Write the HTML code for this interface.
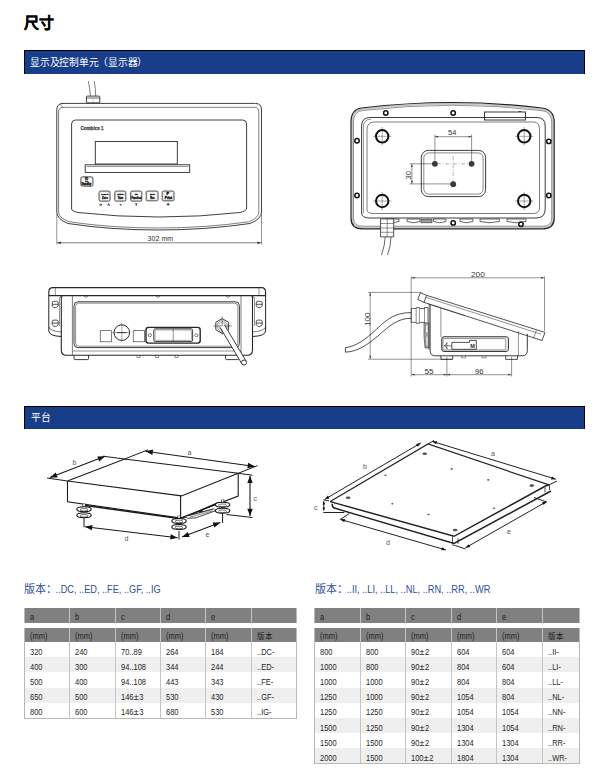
<!DOCTYPE html>
<html lang="zh-CN"><head><meta charset="utf-8"><style>
html,body{margin:0;padding:0;background:#fff;}
body{width:612px;height:780px;position:relative;overflow:hidden;font-family:"Liberation Sans",sans-serif;color:#222;}
.a{position:absolute;white-space:nowrap;}
.bar{position:absolute;background:#183e8a;border-top:1px solid #000;border-left:1px solid #000;border-right:1px solid #000;box-sizing:border-box;}
.bt{position:absolute;color:#fff;font-size:10px;white-space:nowrap;line-height:1;transform:scale(0.975);transform-origin:0 0;}
.hd{position:absolute;background:#808080;}
.alt{position:absolute;background:#efefef;}
.vl{position:absolute;width:1.2px;background:#b8b8b8;}
.vl2{position:absolute;width:1.2px;background:#c4c4c4;}
.hl{position:absolute;height:1.1px;background:#b8b8b8;}
.t{position:absolute;font-size:8.5px;line-height:10px;white-space:nowrap;color:#1e1e1e;transform:scaleX(0.88);transform-origin:0 0;}
.ver{position:absolute;font-size:11px;color:#2d4e9e;white-space:nowrap;line-height:1;}
svg{position:absolute;left:0;top:0;}
</style></head><body>
<div class="a" style="left:24.3px;top:14.5px;font-size:15px;font-weight:bold;line-height:1;color:#000;-webkit-text-stroke:0.3px #000">尺寸</div>
<div class="bar" style="left:24px;top:50px;width:561px;height:24px"></div>
<div class="bt" style="left:30px;top:57.8px">显示及控制单元（显示器）</div>
<div class="bar" style="left:24px;top:406px;width:561px;height:22.5px"></div>
<div class="bt" style="left:30.5px;top:412.8px">平台</div>
<div class="ver" style="left:24px;top:584px">版本：</div>
<div class="ver" style="left:315px;top:584px">版本：</div>
<div class="hd" style="left:24.3px;top:608.2px;width:272.09999999999997px;height:15.0px"></div>
<div class="hd" style="left:24.3px;top:627.8px;width:272.09999999999997px;height:14.200000000000045px"></div>
<div class="alt" style="left:24.3px;top:657.2px;width:272.09999999999997px;height:15.2px"></div>
<div class="alt" style="left:24.3px;top:687.6px;width:272.09999999999997px;height:15.2px"></div>
<div class="vl" style="left:23.7px;top:608.2px;height:15.0px"></div>
<div class="vl" style="left:23.7px;top:627.8px;height:90.20000000000005px"></div>
<div class="vl2" style="left:68.80000000000001px;top:608.2px;height:15.0px"></div>
<div class="vl2" style="left:68.80000000000001px;top:627.8px;height:90.20000000000005px"></div>
<div class="vl2" style="left:114.60000000000001px;top:608.2px;height:15.0px"></div>
<div class="vl2" style="left:114.60000000000001px;top:627.8px;height:90.20000000000005px"></div>
<div class="vl2" style="left:160.0px;top:608.2px;height:15.0px"></div>
<div class="vl2" style="left:160.0px;top:627.8px;height:90.20000000000005px"></div>
<div class="vl2" style="left:205.0px;top:608.2px;height:15.0px"></div>
<div class="vl2" style="left:205.0px;top:627.8px;height:90.20000000000005px"></div>
<div class="vl2" style="left:250.9px;top:608.2px;height:15.0px"></div>
<div class="vl2" style="left:250.9px;top:627.8px;height:90.20000000000005px"></div>
<div class="vl" style="left:295.79999999999995px;top:608.2px;height:15.0px"></div>
<div class="vl" style="left:295.79999999999995px;top:627.8px;height:90.20000000000005px"></div>
<div class="hl" style="left:23.7px;top:717.5px;width:273.29999999999995px"></div>
<div class="t" style="left:29.9px;top:612.0px">a</div>
<div class="t" style="left:75.0px;top:612.0px">b</div>
<div class="t" style="left:120.8px;top:612.0px">c</div>
<div class="t" style="left:166.2px;top:612.0px">d</div>
<div class="t" style="left:211.2px;top:612.0px">e</div>
<div class="t" style="left:257.1px;top:612.0px"></div>
<div class="t" style="left:29.9px;top:631.1999999999999px">(mm)</div>
<div class="t" style="left:75.0px;top:631.1999999999999px">(mm)</div>
<div class="t" style="left:120.8px;top:631.1999999999999px">(mm)</div>
<div class="t" style="left:166.2px;top:631.1999999999999px">(mm)</div>
<div class="t" style="left:211.2px;top:631.1999999999999px">(mm)</div>
<div class="t" style="left:257.1px;top:631.1999999999999px">版本</div>
<div class="t" style="left:29.9px;top:646.6px">320</div>
<div class="t" style="left:75.0px;top:646.6px">240</div>
<div class="t" style="left:120.8px;top:646.6px">70..89</div>
<div class="t" style="left:166.2px;top:646.6px">264</div>
<div class="t" style="left:211.2px;top:646.6px">184</div>
<div class="t" style="left:257.1px;top:646.6px">..DC-</div>
<div class="t" style="left:29.9px;top:661.8000000000001px">400</div>
<div class="t" style="left:75.0px;top:661.8000000000001px">300</div>
<div class="t" style="left:120.8px;top:661.8000000000001px">94..108</div>
<div class="t" style="left:166.2px;top:661.8000000000001px">344</div>
<div class="t" style="left:211.2px;top:661.8000000000001px">244</div>
<div class="t" style="left:257.1px;top:661.8000000000001px">..ED-</div>
<div class="t" style="left:29.9px;top:677.0px">500</div>
<div class="t" style="left:75.0px;top:677.0px">400</div>
<div class="t" style="left:120.8px;top:677.0px">94..108</div>
<div class="t" style="left:166.2px;top:677.0px">443</div>
<div class="t" style="left:211.2px;top:677.0px">343</div>
<div class="t" style="left:257.1px;top:677.0px">..FE-</div>
<div class="t" style="left:29.9px;top:692.2px">650</div>
<div class="t" style="left:75.0px;top:692.2px">500</div>
<div class="t" style="left:120.8px;top:692.2px">146<span style="display:inline-block;transform:scaleX(1.3);margin:0 0.9px">±</span>3</div>
<div class="t" style="left:166.2px;top:692.2px">530</div>
<div class="t" style="left:211.2px;top:692.2px">430</div>
<div class="t" style="left:257.1px;top:692.2px">..GF-</div>
<div class="t" style="left:29.9px;top:707.4px">800</div>
<div class="t" style="left:75.0px;top:707.4px">600</div>
<div class="t" style="left:120.8px;top:707.4px">146<span style="display:inline-block;transform:scaleX(1.3);margin:0 0.9px">±</span>3</div>
<div class="t" style="left:166.2px;top:707.4px">680</div>
<div class="t" style="left:211.2px;top:707.4px">530</div>
<div class="t" style="left:257.1px;top:707.4px">..IG-</div>
<div class="hd" style="left:314.4px;top:608.2px;width:264.9px;height:15.0px"></div>
<div class="hd" style="left:314.4px;top:627.8px;width:264.9px;height:14.200000000000045px"></div>
<div class="alt" style="left:314.4px;top:657.2px;width:264.9px;height:15.2px"></div>
<div class="alt" style="left:314.4px;top:687.6px;width:264.9px;height:15.2px"></div>
<div class="alt" style="left:314.4px;top:718.0px;width:264.9px;height:15.2px"></div>
<div class="alt" style="left:314.4px;top:748.4px;width:264.9px;height:15.2px"></div>
<div class="vl" style="left:313.79999999999995px;top:608.2px;height:15.0px"></div>
<div class="vl" style="left:313.79999999999995px;top:627.8px;height:135.80000000000007px"></div>
<div class="vl2" style="left:359.79999999999995px;top:608.2px;height:15.0px"></div>
<div class="vl2" style="left:359.79999999999995px;top:627.8px;height:135.80000000000007px"></div>
<div class="vl2" style="left:405.0px;top:608.2px;height:15.0px"></div>
<div class="vl2" style="left:405.0px;top:627.8px;height:135.80000000000007px"></div>
<div class="vl2" style="left:450.9px;top:608.2px;height:15.0px"></div>
<div class="vl2" style="left:450.9px;top:627.8px;height:135.80000000000007px"></div>
<div class="vl2" style="left:495.9px;top:608.2px;height:15.0px"></div>
<div class="vl2" style="left:495.9px;top:627.8px;height:135.80000000000007px"></div>
<div class="vl2" style="left:541.9px;top:608.2px;height:15.0px"></div>
<div class="vl2" style="left:541.9px;top:627.8px;height:135.80000000000007px"></div>
<div class="vl" style="left:578.6999999999999px;top:608.2px;height:15.0px"></div>
<div class="vl" style="left:578.6999999999999px;top:627.8px;height:135.80000000000007px"></div>
<div class="hl" style="left:313.79999999999995px;top:763.1px;width:266.09999999999997px"></div>
<div class="t" style="left:320.0px;top:612.0px">a</div>
<div class="t" style="left:366.0px;top:612.0px">b</div>
<div class="t" style="left:411.20000000000005px;top:612.0px">c</div>
<div class="t" style="left:457.1px;top:612.0px">d</div>
<div class="t" style="left:502.1px;top:612.0px">e</div>
<div class="t" style="left:548.1px;top:612.0px"></div>
<div class="t" style="left:320.0px;top:631.1999999999999px">(mm)</div>
<div class="t" style="left:366.0px;top:631.1999999999999px">(mm)</div>
<div class="t" style="left:411.20000000000005px;top:631.1999999999999px">(mm)</div>
<div class="t" style="left:457.1px;top:631.1999999999999px">(mm)</div>
<div class="t" style="left:502.1px;top:631.1999999999999px">(mm)</div>
<div class="t" style="left:548.1px;top:631.1999999999999px">版本</div>
<div class="t" style="left:320.0px;top:646.6px">800</div>
<div class="t" style="left:366.0px;top:646.6px">800</div>
<div class="t" style="left:411.20000000000005px;top:646.6px">90<span style="display:inline-block;transform:scaleX(1.3);margin:0 0.9px">±</span>2</div>
<div class="t" style="left:457.1px;top:646.6px">604</div>
<div class="t" style="left:502.1px;top:646.6px">604</div>
<div class="t" style="left:548.1px;top:646.6px">..II-</div>
<div class="t" style="left:320.0px;top:661.8000000000001px">1000</div>
<div class="t" style="left:366.0px;top:661.8000000000001px">800</div>
<div class="t" style="left:411.20000000000005px;top:661.8000000000001px">90<span style="display:inline-block;transform:scaleX(1.3);margin:0 0.9px">±</span>2</div>
<div class="t" style="left:457.1px;top:661.8000000000001px">804</div>
<div class="t" style="left:502.1px;top:661.8000000000001px">604</div>
<div class="t" style="left:548.1px;top:661.8000000000001px">..LI-</div>
<div class="t" style="left:320.0px;top:677.0px">1000</div>
<div class="t" style="left:366.0px;top:677.0px">1000</div>
<div class="t" style="left:411.20000000000005px;top:677.0px">90<span style="display:inline-block;transform:scaleX(1.3);margin:0 0.9px">±</span>2</div>
<div class="t" style="left:457.1px;top:677.0px">804</div>
<div class="t" style="left:502.1px;top:677.0px">804</div>
<div class="t" style="left:548.1px;top:677.0px">..LL-</div>
<div class="t" style="left:320.0px;top:692.2px">1250</div>
<div class="t" style="left:366.0px;top:692.2px">1000</div>
<div class="t" style="left:411.20000000000005px;top:692.2px">90<span style="display:inline-block;transform:scaleX(1.3);margin:0 0.9px">±</span>2</div>
<div class="t" style="left:457.1px;top:692.2px">1054</div>
<div class="t" style="left:502.1px;top:692.2px">804</div>
<div class="t" style="left:548.1px;top:692.2px">..NL-</div>
<div class="t" style="left:320.0px;top:707.4px">1250</div>
<div class="t" style="left:366.0px;top:707.4px">1250</div>
<div class="t" style="left:411.20000000000005px;top:707.4px">90<span style="display:inline-block;transform:scaleX(1.3);margin:0 0.9px">±</span>2</div>
<div class="t" style="left:457.1px;top:707.4px">1054</div>
<div class="t" style="left:502.1px;top:707.4px">1054</div>
<div class="t" style="left:548.1px;top:707.4px">..NN-</div>
<div class="t" style="left:320.0px;top:722.6px">1500</div>
<div class="t" style="left:366.0px;top:722.6px">1250</div>
<div class="t" style="left:411.20000000000005px;top:722.6px">90<span style="display:inline-block;transform:scaleX(1.3);margin:0 0.9px">±</span>2</div>
<div class="t" style="left:457.1px;top:722.6px">1304</div>
<div class="t" style="left:502.1px;top:722.6px">1054</div>
<div class="t" style="left:548.1px;top:722.6px">..RN-</div>
<div class="t" style="left:320.0px;top:737.8000000000001px">1500</div>
<div class="t" style="left:366.0px;top:737.8000000000001px">1500</div>
<div class="t" style="left:411.20000000000005px;top:737.8000000000001px">90<span style="display:inline-block;transform:scaleX(1.3);margin:0 0.9px">±</span>2</div>
<div class="t" style="left:457.1px;top:737.8000000000001px">1304</div>
<div class="t" style="left:502.1px;top:737.8000000000001px">1304</div>
<div class="t" style="left:548.1px;top:737.8000000000001px">..RR-</div>
<div class="t" style="left:320.0px;top:753.0px">2000</div>
<div class="t" style="left:366.0px;top:753.0px">1500</div>
<div class="t" style="left:411.20000000000005px;top:753.0px">100<span style="display:inline-block;transform:scaleX(1.3);margin:0 0.9px">±</span>2</div>
<div class="t" style="left:457.1px;top:753.0px">1804</div>
<div class="t" style="left:502.1px;top:753.0px">1304</div>
<div class="t" style="left:548.1px;top:753.0px">..WR-</div>
<svg width="612" height="780" viewBox="0 0 612 780"><g id="d1" fill="none" stroke="#2a2a2a" stroke-width="0.9">
 <!-- cable -->
 <path d="M88.3 81 Q89.8 88 90.5 96.1 M94.2 81 Q95.5 88 95.7 96.1" stroke-width="0.7" stroke="#444"/>
 <!-- gland -->
 <rect x="86.4" y="96.1" width="13.4" height="6.8" rx="0.8" stroke-width="0.9"/>
 <path d="M86.4 98 H99.8" stroke-width="0.7"/>
 <path d="M93.2 98.5 V103" stroke-width="0.4" stroke="#888"/>
 <!-- outer housing -->
 <path d="M56.8 212 V110 Q56.8 103.4 63 103.4 H255.5 Q261.5 103.4 261.5 110 V212 Q261.5 219 250 223.5 Q205 230 158 230 Q111 230 68 223.5 Q56.8 219 56.8 212 Z"/>
 <path d="M58.6 212 V112 Q58.6 107.3 63.5 107.3 H254.5 Q258.8 107.3 258.8 112 V212 Q258.8 218 248.5 221.8 Q205 228 158 228 Q111 228 69.5 221.8 Q58.6 218 58.6 212" stroke-width="0.6"/>
 <path d="M63 107.3 Q58 103.4 63 103.4" stroke-width="0.5"/>
 <!-- inner panel -->
 <path d="M71.6 209 V124 Q71.6 120 75.6 120 H242.6 Q246.6 120 246.6 124 V208 Q246.6 211 240 212.5 Q200 217 159 217 Q118 217 78 212.5 Q71.6 211 71.6 209 Z"/>
 <!-- display window -->
 <rect x="95.3" y="141.5" width="82" height="22.5"/>
 <!-- slot -->
 <rect x="85.2" y="164.8" width="104.5" height="7.6"/>
 <path d="M87 166.5 H188" stroke-width="0.5"/>
 <!-- buttons -->
 <g stroke-width="0.9" stroke="#333">
 <rect x="80.9" y="176.9" width="12" height="9.2" rx="1.3"/>
 <rect x="99.1" y="191.1" width="10.9" height="10" rx="1.4"/>
 <rect x="114.8" y="191.1" width="11" height="10" rx="1.4"/>
 <rect x="130.7" y="191.1" width="11.1" height="10" rx="1.4"/>
 <rect x="146.2" y="191.1" width="11.8" height="9.7" rx="1.4"/>
 <rect x="162.2" y="191.1" width="11.8" height="9.7" rx="1.4"/>
 </g>
 <g stroke-width="0.35" stroke="#999">
 <rect x="81.7" y="177.7" width="10.4" height="7.6" rx="0.8"/>
 <rect x="99.9" y="191.9" width="9.3" height="8.4" rx="0.9"/>
 <rect x="115.6" y="191.9" width="9.4" height="8.4" rx="0.9"/>
 <rect x="131.5" y="191.9" width="9.5" height="8.4" rx="0.9"/>
 <rect x="147" y="191.9" width="10.2" height="8.1" rx="0.9"/>
 <rect x="163" y="191.9" width="10.2" height="8.1" rx="0.9"/>
 </g>
<!-- dimension -->
 <path d="M56.8 214 V244.5 M261.5 214 V244.5" stroke-width="0.5"/>
 <path d="M57 242.8 H261.3" stroke-width="0.6"/>
 <path d="M57 242.8 l4 -1.2 v2.4 z M261.3 242.8 l-4 -1.2 v2.4 z" fill="#3a3a3a" stroke="none"/>
</g>
<g font-family="Liberation Sans, sans-serif" fill="#333">
 <text x="80.5" y="130.2" font-size="6" font-weight="bold" stroke="#333" stroke-width="0.25" textLength="23" lengthAdjust="spacingAndGlyphs">Combics 1</text>
 <text x="147.6" y="241.3" font-size="7.8" textLength="25.6" lengthAdjust="spacingAndGlyphs">302 mm</text>
</g>
<g fill="#1a1a1a" stroke="#1a1a1a" stroke-width="0.35" font-family="Liberation Sans, sans-serif" font-weight="bold">
 <text x="85" y="179.8" font-size="2.8" textLength="3" lengthAdjust="spacingAndGlyphs">I/O</text>
 <text x="85" y="182.3" font-size="2.5" textLength="3" lengthAdjust="spacingAndGlyphs">Off</text>
 <text x="81.5" y="184.6" font-size="2.6" textLength="9.5" lengthAdjust="spacingAndGlyphs">Standby</text>
 <text x="101.3" y="194.7" font-size="2.3" textLength="7" lengthAdjust="spacingAndGlyphs">&gt;0&lt;</text>
 <text x="102" y="199" font-size="2.8" textLength="5.8" lengthAdjust="spacingAndGlyphs">Zero</text>
 <text x="117" y="194.7" font-size="2.3" textLength="7" lengthAdjust="spacingAndGlyphs">&lt;T&gt;</text>
 <text x="117.8" y="199" font-size="2.8" textLength="5.5" lengthAdjust="spacingAndGlyphs">Tare</text>
 <text x="134.8" y="194.7" font-size="2.3" textLength="3" lengthAdjust="spacingAndGlyphs">Fn</text>
 <text x="131.5" y="199" font-size="2.8" textLength="9.8" lengthAdjust="spacingAndGlyphs">Function</text>
 <text x="150.1" y="194.9" font-size="2.3" textLength="4.6" lengthAdjust="spacingAndGlyphs">Ref</text>
 <text x="150.3" y="198.5" font-size="2.8" textLength="4.4" lengthAdjust="spacingAndGlyphs">Rec</text>
 <text x="166.5" y="194.9" font-size="2.6" textLength="2.5" lengthAdjust="spacingAndGlyphs">P</text>
 <text x="164.8" y="198.8" font-size="2.8" textLength="7.2" lengthAdjust="spacingAndGlyphs">Print</text>
</g>
<g fill="#2a2a2a" stroke="#2a2a2a" stroke-width="0.9">
 <path d="M99.3 204.8 H101.7 M100.6 203.8 L101.8 204.8 L100.6 205.8" fill="none"/>
 <path d="M107.8 205.7 L108.65 203.6 L109.5 205.7" fill="none"/>
 <path d="M121.3 203.8 V205.8 L119.3 204.8 Z" stroke="none"/>
 <path d="M135.2 203.8 H137.3 M136.25 203.8 V205.8" fill="none"/>
 <path d="M166.6 204.3 H169.6 M168.1 202.8 V205.8" fill="none"/>
</g>
<g id="d2" fill="none" stroke="#262626" stroke-width="0.9">
 <!-- outer housing -->
 <path d="M352.25 122 Q352.25 110.5 362 109.3 Q453 98.5 541.3 109.3 Q552.95 110.5 552.95 122 V218 Q552.95 227.5 543 227.5 H362 Q352.25 227.5 352.25 218 Z" stroke-width="1.6" stroke="#c8c8c8"/>
 
 <path d="M351 122 Q351 109.5 361.6 108 Q453 97 541.7 108 Q554.2 109.5 554.2 122 V218 Q554.2 228.8 543 228.8 H362 Q351 228.8 351 218 Z" stroke-width="1.2" stroke="#222"/>
 <path d="M353.5 122 Q353.5 111.5 362.5 110.5 Q453 100 541 110.5 Q551.7 111.5 551.7 122 V218 Q551.7 226.2 543 226.2 H362 Q353.5 226.2 353.5 218 Z" stroke-width="0.5"/>
 <!-- inner frame -->
 <path d="M361.6 213 V126 Q361.6 117.5 370 117.5 H537 Q545.2 117.5 545.2 126 V209 Q545.2 218 536 218 H370 Q361.6 218 361.6 213 Z"/>
 <path d="M363.4 213 V127 Q363.4 119.3 371 119.3" stroke-width="0.5"/>
 <path d="M367 210 V130 Q367 122 374 122 H534 Q539.5 122 539.5 130 V208 Q539.5 213.5 533 213.5 H374 Q367 213.5 367 210 Z" stroke-width="0.6"/>
 <!-- center plate -->
 <rect x="421.3" y="150.4" width="64.3" height="46.2" rx="7"/>
 <rect x="423.8" y="152.9" width="59.3" height="41.2" rx="5" stroke-width="0.7" stroke="#555"/>
 <!-- center lines -->
 <path d="M437 163.8 H470 M453.2 156 V188" stroke-width="0.5" stroke="#777" stroke-dasharray="4 1.5 1 1.5"/>
 <!-- dim 54 -->
 <path d="M434.9 163.8 V134.5 M471.6 163.8 V134.5" stroke-width="0.5"/>
 <path d="M435 136.7 H471.5" stroke-width="0.5"/>
 <path d="M435 136.7 l3 -0.9 v1.8z M471.5 136.7 l-3 -0.9 v1.8z" fill="#3a3a3a" stroke="none"/>
 <!-- dim 30 -->
 <path d="M434.9 163.8 H409.5 M453.2 183.9 H409.5" stroke-width="0.5"/>
 <path d="M411.9 164 V183.7" stroke-width="0.5"/>
 <path d="M411.9 164 l-0.9 3 h1.8z M411.9 183.7 l-0.9 -3 h1.8z" fill="#3a3a3a" stroke="none"/>
 <!-- big holes -->
 <g stroke-width="2" stroke="#111">
  <circle cx="382.2" cy="136.3" r="6.2"/><circle cx="524.2" cy="136.3" r="6.2"/>
  <circle cx="382.2" cy="201" r="6.2"/><circle cx="524.2" cy="201" r="6.2"/>
 </g>
 <path d="M373 136.3 H391.4 M382.2 127 V145.5 M515 136.3 H533.4 M524.2 127 V145.5 M373 201 H391.4 M382.2 191.8 V210.2 M515 201 H533.4 M524.2 191.8 V210.2" stroke-width="0.4"/>
 <!-- small holes -->
 <g stroke-width="1.5" stroke="#111">
  <circle cx="385.8" cy="113" r="2.2"/><circle cx="453.2" cy="113" r="2.2"/>
  <circle cx="357" cy="140.8" r="2.2"/><circle cx="357" cy="195.5" r="2.2"/>
  <circle cx="548.8" cy="141.4" r="2.2"/><circle cx="548.8" cy="195.5" r="2.2"/>
  <circle cx="453.2" cy="222.9" r="2.2"/><circle cx="521" cy="224.3" r="2.2"/>
 </g>
 <!-- label -->
 <rect x="484.5" y="112" width="41" height="8"/>
 <!-- connectors -->
 <g stroke-width="0.7">
  <path d="M386 219 h13 v2.5 q-6.5 2.5 -13 0z"/>
  <path d="M407 219 h13 v2.5 q-6.5 2.5 -13 0z"/>
  <path d="M433.5 219 h12.5 v2.5 q-6.5 2.5 -12.5 0z"/>
  <path d="M460 219 h13 v2.5 q-6.5 2.5 -13 0z"/>
  <path d="M480 219 h19.4 v2.5 q-9.7 2.5 -19.4 0z"/>
  <path d="M507 219 h19 v2.5 q-9.5 2.5 -19 0z"/>
 </g>
 <rect x="421" y="219.2" width="11" height="3.6" fill="#999" stroke="#333" stroke-width="0.6"/>
 <!-- gland + cable -->
 <path d="M380.6 218.9 H393.7 V236.9 H380.6 Z" fill="#fff" stroke-width="0.8"/>
 <path d="M380.6 223.5 H393.7 M380.6 228 H393.7 M380.6 232.3 H393.7 M387.2 219 V236.9" stroke-width="0.5"/>
 <path d="M385.2 236.9 Q385 245 381.5 255 M391 236.9 Q390.8 246 387.5 255" stroke-width="0.7"/>
</g>
<g fill="#3a3a3a" stroke="none">
 <circle cx="434.9" cy="163.8" r="2.9"/><circle cx="471.6" cy="163.8" r="2.9"/><circle cx="453.2" cy="184.2" r="2.9"/>
 <path d="M518 112 q2 -2 4 0z"/>
</g>
<g font-family="Liberation Sans, sans-serif" fill="#333" font-size="7.5">
 <text x="448" y="135">54</text>
 <text transform="translate(411 179.4) rotate(-90)">30</text>
</g>
<g id="d3" fill="none" stroke="#262626" stroke-width="0.9">
 <!-- top plate -->
 <path d="M48.8 296 V292 Q48.8 287.6 53 287.6 H261.4 Q265.6 287.6 265.6 292 V296" stroke-width="1.1"/>
 <path d="M48.8 295.6 H265.6" stroke-width="1.1"/>
 <path d="M55.3 288 V295.6 M259 288 V295.6" stroke-width="0.5"/>
 <!-- brackets -->
 <path d="M48.8 296 V331 Q49 336 61.3 336.5" stroke-width="1"/>
 <path d="M48.8 327 Q50 331 61.3 332" stroke-width="0.6"/>
 <path d="M59.5 297.5 Q60.5 297 63 296.5 M59.5 297.5 V326" stroke-width="0.5"/>
 <path d="M265.6 296 V331 Q265.4 336 252.5 336.5" stroke-width="1"/>
 <path d="M265.6 327 Q264.4 331 252.5 332" stroke-width="0.6"/>
 <path d="M254.5 297.5 Q253.5 297 251 296.5 M254.5 297.5 V326" stroke-width="0.5"/>
 <g stroke-width="0.8">
  <path d="M52.2 306 V303 Q52.2 301.3 53.9 301.3 H56.5 Q58.2 301.3 58.2 303 V306 Q55.2 309.5 52.2 306 Z M52.2 304.3 H58.2"/>
  <path d="M52.2 324.8 V321.8 Q52.2 320.1 53.9 320.1 H56.5 Q58.2 320.1 58.2 321.8 V324.8 Q55.2 328.3 52.2 324.8 Z M52.2 323.1 H58.2"/>
  <path d="M256.2 306 V303 Q256.2 301.3 257.9 301.3 H260.5 Q262.2 301.3 262.2 303 V306 Q259.2 309.5 256.2 306 Z M256.2 304.3 H262.2"/>
  <path d="M256.2 324.8 V321.8 Q256.2 320.1 257.9 320.1 H260.5 Q262.2 320.1 262.2 321.8 V324.8 Q259.2 328.3 256.2 324.8 Z M256.2 323.1 H262.2"/>
 </g>
 <!-- main body -->
 <path d="M61.3 296 V350 Q61.3 355.3 66.5 355.3 H247 Q252.5 355.3 252.5 350 V296" stroke-width="1.1"/>
 <path d="M72.4 296 V355.3 M241 296 V355.3" stroke-width="0.6"/>
 <path d="M72.4 351 H241" stroke-width="0.5"/>
 <!-- inner panel -->
 <rect x="74" y="301.8" width="165.4" height="45.8" rx="4"/>
 <rect x="75.6" y="303.2" width="162.2" height="43" rx="3.2" stroke-width="0.5"/>
 <!-- bumps -->
 <path d="M84 296 q2 3 4 0 M156 296 q2 3 4 0 M226 296 q2 3 4 0" stroke-width="0.6"/>
 <!-- feet -->
 <path d="M74 355.3 v3.5 q0 0.8 0.8 0.8 h12.9 q0.8 0 0.8 -0.8 v-3.5" />
 <path d="M225.6 355.3 v3.5 q0 0.8 0.8 0.8 h11.4 q0.8 0 0.8 -0.8 v-3.5" />
 <path d="M137 355.3 v2.2 h3 v-2.2 M155.5 355.3 v2.2 h3 v-2.2 M175 355.3 v2.2 h3 v-2.2" stroke-width="0.5"/>
 <!-- squares and circle -->
 <rect x="100.2" y="330.7" width="11.4" height="11.1" stroke-width="0.6"/>
 <rect x="133.2" y="330.7" width="11.5" height="11.1" stroke-width="0.6"/>
 <circle cx="121.8" cy="332.6" r="7.8" stroke-width="1"/>
 <path d="M112 332.6 H130.3 M121.8 323 V342.5" stroke-width="0.4"/>
 <path d="M117 332.6 H126.5" stroke-width="0.9"/>
 <!-- D-sub -->
 <rect x="146" y="327.4" width="54.2" height="15.7" rx="2.5" stroke-width="1.4"/>
 <rect x="153.8" y="328.8" width="38.8" height="12.8" rx="1.5" stroke-width="0.9"/>
 <rect x="155" y="330" width="36.4" height="10.4" rx="1" stroke-width="0.4"/>
 <path d="M173.2 329 V341.5" stroke-width="0.5"/>
 <circle cx="149.8" cy="335.2" r="1.6" stroke-width="0.6"/>
 <circle cx="196.4" cy="335.2" r="1.6" stroke-width="0.6"/>
 <!-- gland -->
 <path d="M222.2 318.6 L228.6 322.3 V329.7 L222.2 333.4 L215.8 329.7 V322.3 Z" stroke-width="0.9"/>
 <circle cx="222.2" cy="326" r="5.2" stroke-width="0.6" stroke="#666"/>
 <circle cx="222.2" cy="326" r="3.6" stroke-width="0.6" stroke="#777"/>
 <path d="M213 326 H232 M222.2 316.5 V335" stroke-width="0.5"/>
 <!-- cable rod -->
 <path d="M220.05 327.3 L241.85 363.8 A2.5 2.5 0 0 0 246.15 361.2 L224.35 324.7 Z" fill="#fff" stroke="none"/>
 <path d="M220.05 327.3 L241.85 363.8 M224.35 324.7 L246.15 361.2" stroke-width="0.9"/>
 <circle cx="244" cy="362.5" r="2.5" stroke-width="0.9" fill="#fff"/>
</g>
<g id="d4" fill="none" stroke="#262626" stroke-width="0.9">
 <!-- dimension lines -->
 <g stroke-width="0.5">
  <path d="M411.2 276.5 V376.5 M544.5 276.5 V331"/>
  <path d="M411.4 277.8 H544.3"/>
  <path d="M368 292.4 H421.5 M368 359.2 H452"/>
  <path d="M370.2 292.6 V359"/>
  <path d="M446.9 357 V376.5 M511.6 357 V376.5"/>
  <path d="M411.4 374.7 H511.4"/>
 </g>
 <g fill="#3a3a3a" stroke="none">
  <path d="M411.4 277.8 l3.2 -0.9 v1.8z M544.3 277.8 l-3.2 -0.9 v1.8z"/>
  <path d="M370.2 292.6 l-0.9 3.2 h1.8z M370.2 359 l-0.9 -3.2 h1.8z"/>
  <path d="M411.4 374.7 l3.2 -0.9 v1.8z M446.9 374.7 l-3.2 -0.9 v1.8z M446.9 374.7 l3.2 -0.9 v1.8z M511.4 374.7 l-3.2 -0.9 v1.8z"/>
 </g>
 <!-- cable -->
 <path d="M411.2 312.6 C396 312.6 388 318 376 329.7 C366 339 356 346.5 345.4 347.7 V352.2 C358 351.5 367 345 378 336 C390 325 398 318.5 411.2 318.2" stroke-width="0.8"/>
 <!-- gland -->
 <path d="M411.2 308.5 h5 v-0.9 h3.2 v0.9 h5 v-0.9 h3.6 v15.7 h-3.6 v-0.9 h-5 v0.9 h-3.2 v-0.9 h-5 z" stroke-width="0.7"/>
 <path d="M416.2 308.5 V322.4 M419.4 308.5 V322.4 M424.5 307.6 V323.3" stroke-width="0.5"/>
 <!-- head -->
 <path d="M420.4 292.7 L426.5 295.3 L424 302.4 L417.8 299.4 Z" stroke-width="0.8"/>
 <path d="M426.5 295.3 L545 332.4 L542 340.5 L424 302.4" stroke-width="0.8"/>
 <path d="M425.8 297.3 L541 334.2" stroke-width="0.5"/>
 <path d="M536.4 330.4 L533.6 338.3" stroke-width="0.5"/>
 <!-- body -->
 <path d="M430.1 304.5 V350.6 Q430.1 355.8 435.5 355.8 H522 Q527.3 355.8 527.3 350.6 V333.8"/>
 <path d="M440.9 308 V337.3 M518.4 331 V355.8" stroke-width="0.5"/>
 <path d="M428.6 304 L465 315.8" stroke-width="0.5"/>
 <!-- window box -->
 <rect x="441.8" y="336.8" width="66.6" height="14.6" rx="2.2" stroke-width="1"/>
 <rect x="443" y="338.6" width="62.8" height="11.3" rx="0.8" stroke-width="0.5"/>
 <path d="M451.8 342.4 H469.4 V340.4 H476.3 V349.3 H451.8 Z" stroke-width="0.8"/>
 <path d="M444.2 345.8 H451.5 M447.5 342.8 L444.5 345.8 L447.5 348.8 M446.8 342.5 V349" stroke-width="0.6"/>
 <!-- feet -->
 <path d="M440.9 355.8 v3.6 h11.8 v-3.6 M505.7 355.8 v3.6 h11.8 v-3.6" stroke-width="0.8"/>
 <path d="M461.6 355.8 v2 h3.9 v-2 M482 355.8 v2 h4 v-2" stroke-width="0.5"/>
 <!-- connector dark -->
 <path d="M424 323 h5 v25 h-4 q-1.5 -12 -1 -25z" fill="#aaa" stroke="#333" stroke-width="0.6"/><path d="M425.5 325 h2.5 v8 h-2.5z M425.8 336 h2.2 v10 h-2z" fill="#eee" stroke="#555" stroke-width="0.4"/><path d="M429.1 304 V350" stroke-width="0.5"/>
</g>
<g font-family="Liberation Sans, sans-serif" fill="#333" font-size="7.5">
 <text x="471" y="277" textLength="13.7" lengthAdjust="spacingAndGlyphs">200</text>
 <text x="424.5" y="374" textLength="9" lengthAdjust="spacingAndGlyphs">55</text>
 <text x="475" y="374" textLength="8.5" lengthAdjust="spacingAndGlyphs">96</text>
 <text transform="translate(369.6 326) rotate(-90)" textLength="13.4" lengthAdjust="spacingAndGlyphs">100</text>
 <text x="470.2" y="347.6" font-size="5.6" font-weight="bold" fill="#222" textLength="4.6" lengthAdjust="spacingAndGlyphs">M</text>
</g>
<g id="d5" fill="none" stroke="#1a1a1a" stroke-width="1">
 <!-- top surface -->
 <path d="M67.5 481 L181.4 495.9 L238.2 473.3 L124.6 459 Z" stroke-width="1.1"/>
 <!-- faces -->
 <path d="M67.5 481 V501.8 L180.6 518 V495.9 M180.6 518 L238.2 496 V473.3" stroke-width="1.1"/>
 <path d="M83.5 505.3 L180.6 518.8 L218.8 502.5" stroke-width="1.4"/>
 <!-- bracket -->
 <path d="M184.8 516.6 L213.5 508.8 L215.5 510.8 L196 517.8 L187.5 518.3 Z" stroke-width="0.8" fill="#fff"/>
 <path d="M188 515.8 L212.5 509.6 M190 517.2 L213 510.8" stroke-width="0.5"/>
 <path d="M199 511.8 L203 510.8" stroke-width="1.2"/>
 <!-- extension lines -->
 <g stroke-width="1">
  <path d="M67.5 481 L47 478 M124.6 459 L103 456.2"/>
  <path d="M124.6 459 L148 449.8 M238.2 473.3 L257.5 465.6"/>
  <path d="M238.2 473.3 L252.5 475.2 M226.5 514.5 L252.5 517.5"/>
  <path d="M84 518 V527.3 M179 531 V539.5 M222.6 513 V523"/>
 </g>
 <!-- dimension lines -->
 <g stroke-width="1.1">
  <path d="M50 477.5 L105 456.3"/>
  <path d="M145.6 451.2 L254.9 466.5"/>
  <path d="M250 475.8 V516"/>
  <path d="M85 526.8 L177.6 537.8"/>
  <path d="M182 537 L220.3 522.4"/>
 </g>
 <!-- feet -->
 <path d="M84 503.5 V512 M179 515.5 V524 M222.6 499.5 V508" stroke-width="3.2" stroke="#333"/>
 <path d="M84 503.5 V512 M179 515.5 V524 M222.6 499.5 V508" stroke-width="1.6" stroke="#fff"/>
 <g stroke-width="1.1" stroke="#111" fill="#fff">
  <ellipse cx="84" cy="515.3" rx="7.2" ry="2.5"/>
  <ellipse cx="84" cy="509.3" rx="7.2" ry="2.5"/>
  <ellipse cx="179" cy="527" rx="7.2" ry="2.5"/>
  <ellipse cx="179" cy="521" rx="7.2" ry="2.5"/>
  <ellipse cx="222.6" cy="510.8" rx="7.2" ry="2.5"/>
  <ellipse cx="222.6" cy="504.8" rx="7.2" ry="2.5"/>
 </g>
 <g stroke-width="0.6">
  <ellipse cx="84" cy="515.8" rx="4" ry="1.3"/><ellipse cx="84" cy="509.8" rx="4" ry="1.3"/>
  <ellipse cx="179" cy="527.5" rx="4" ry="1.3"/><ellipse cx="179" cy="521.5" rx="4" ry="1.3"/>
  <ellipse cx="222.6" cy="511.3" rx="4" ry="1.3"/><ellipse cx="222.6" cy="505.3" rx="4" ry="1.3"/>
 </g>
</g>
<g fill="#111" stroke="none"><path d="M50.0 477.5 L57.7 477.4 L55.7 472.4Z M105.0 456.3 L97.3 456.4 L99.3 461.4Z M145.6 451.2 L152.4 454.9 L153.1 449.5Z M254.9 466.5 L248.1 462.8 L247.4 468.2Z M250.0 475.8 L247.3 483.0 L252.7 483.0Z M250.0 516.0 L252.7 508.8 L247.3 508.8Z M85.0 526.8 L91.8 530.3 L92.5 525.0Z M177.6 537.8 L170.8 534.3 L170.1 539.6Z M182.0 537.0 L189.7 537.0 L187.8 531.9Z M220.3 522.4 L212.6 522.4 L214.5 527.5Z"/></g>
<g font-family="Liberation Sans, sans-serif" fill="#555" font-size="7">
 <text x="72.5" y="464.5">b</text>
 <text x="187.5" y="455">a</text>
 <text x="253.5" y="501">c</text>
 <text x="124.5" y="540.5">d</text>
 <text x="205.5" y="536.5">e</text>
</g>
<g id="d6" fill="none" stroke="#222" stroke-width="0.9">
 <!-- top plate outline -->
 <path d="M330.2 501.6 L428 444 L549 484.9" stroke-width="1.2"/>
 <path d="M330.2 501.6 L454 536.3 L545.5 486 L549 484.9" stroke-width="1.5"/>
 <!-- lower edge / rim -->
 <path d="M332.2 503.7 Q331.8 507.8 336 508.6 L454 543.5 L551 491" stroke-width="1.5"/>
 <path d="M452.5 536.5 V544 Q452.5 546 455 545.5 M458 538.6 V544 M549.5 484.9 V490 M545 487.5 V492.5" stroke-width="0.8"/>
 
 
 <!-- dims -->
 <g stroke-width="1">
  <path d="M324.8 499.3 L420.8 443"/>
  <path d="M432.3 441.4 L555.8 479.2"/>
  <path d="M428 444 L434 440.5 M549 484.9 L557 481"/>
  <path d="M323.8 501.3 V510.6 M323.3 499.8 L329 500.8 M323.3 512.5 H344.4"/>
  <path d="M340.4 519.4 L446 550 M340.4 519.4 L349.3 513.5"/>
  <path d="M465.5 547.8 L546.7 501.5 M534 497.5 L546.7 502 M455.2 545.5 L465.5 549"/>
 </g>
 <!-- holes -->
 <g fill="#555" stroke="none">
  <ellipse cx="348.2" cy="497.8" rx="2.4" ry="1.3"/>
  <ellipse cx="424.7" cy="453.7" rx="2.4" ry="1.3"/>
  <ellipse cx="531.8" cy="485.6" rx="2.4" ry="1.3"/>
  <ellipse cx="455.2" cy="530" rx="2.4" ry="1.3"/>
  <ellipse cx="385.5" cy="475.3" rx="1.2" ry="0.8"/>
  <ellipse cx="392.4" cy="503.7" rx="1.2" ry="0.8"/>
  <ellipse cx="451.7" cy="468.9" rx="1.2" ry="0.8"/>
  <ellipse cx="488.3" cy="479.9" rx="1.2" ry="0.8"/>
  <ellipse cx="494" cy="508.2" rx="1.2" ry="0.8"/>
  <ellipse cx="428.6" cy="514.5" rx="1.2" ry="0.8"/>
 </g>
</g>
<g fill="#111" stroke="none"><path d="M324.8 499.3 L329.5 498.4 L327.9 495.6Z M420.8 443.0 L416.1 443.9 L417.7 446.7Z M432.3 441.4 L436.1 444.2 L437.1 441.2Z M555.8 479.2 L552.0 476.4 L551.0 479.4Z M323.8 501.3 L322.5 504.5 L325.1 504.5Z M323.8 510.6 L325.1 507.4 L322.5 507.4Z M340.4 519.4 L344.3 522.2 L345.2 519.1Z M446.0 550.0 L442.1 547.2 L441.2 550.3Z M465.5 547.8 L470.2 547.0 L468.6 544.2Z M546.7 501.5 L542.0 502.3 L543.6 505.1Z"/></g>
<g font-family="Liberation Sans, sans-serif" fill="#555" font-size="7">
 <text x="363" y="468.5">b</text>
 <text x="491" y="456">a</text>
 <text x="314" y="510">c</text>
 <text x="386" y="544.5">d</text>
 <text x="507" y="533.5">e</text>
</g>

<g font-family="Liberation Sans, sans-serif" fill="#2d4e9e" font-size="11">
<text x="55.6" y="593.2" textLength="105" lengthAdjust="spacingAndGlyphs">..DC, ..ED, ..FE, ..GF, ..IG</text>
<text x="346.8" y="593.2" textLength="143.5" lengthAdjust="spacingAndGlyphs">..II, ..LI, ..LL, ..NL, ..RN, ..RR, ..WR</text>
</g></svg>
</body></html>
